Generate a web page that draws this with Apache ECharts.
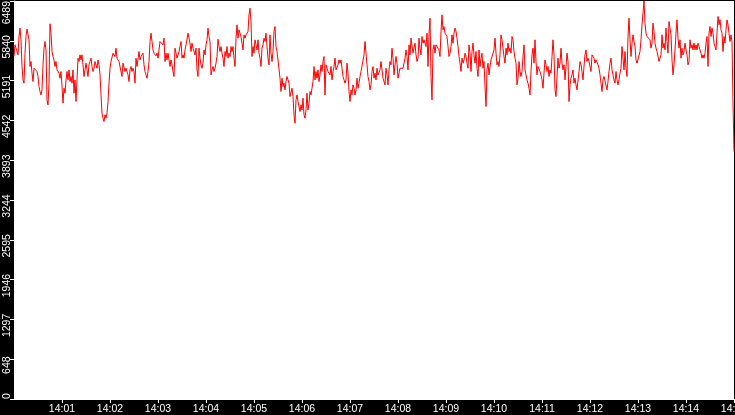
<!DOCTYPE html>
<html>
<head>
<meta charset="utf-8">
<script src="https://cdn.jsdelivr.net/npm/echarts@6/dist/echarts.min.js"></script>
<style>
html,body{margin:0;padding:0;background:#000;}
#chart{width:735px;height:415px;}
</style>
</head>
<body>
<div id="chart"></div>
<script>
// Sampled values, one sample every 1.25 s starting 14:00:00
const startHour = 14;
const sampleSeconds = 1.25;
const yMax = 6489;
const yStep = 648.9;
const xTickSeconds = 60;

const seg1 = [
5584,5774,5720,5747,5611,5910,6046,5856,5421,5203,
5149,5638,5910,6030,6019,5856,5421,5502,5312,5176,
5393,5366,5393,5339,5258,5094,5013,4958,5040,5448,
5720,5828,5692,4877,4795,5149,6117,5964,5665,5584,
5529,5421,5502,5366,5339,5312,5230,5339,5094,4823,
5067,4986,5203,5339,5203,5366,5176,5258,5149,5366,
4986,5203,4850,5203,5557,5502,5611,5529,5611,5448,
5258,5366,5475,5366,5258,5448,5502,5557,5421,5339,
5393,5502,5448,5393,5529,5448,5285,4958,4659,4578,
4524,4632,4578,4659,4850,5149,5393,5502,5502,5638,
5611,5584,5720,5557,5529,5502,5475,5502,5258,5475,
5475,5339,5393,5366,5285,5176,5366,5421,5339,5393,
5339,5149,5557,5421
];
const seg2 = [
5421,5665,5529,5584,5611,5638,5448,5339,5285,5230,
5339,5502,5828,5964,5828,5692,5638,5611,5595,5638,
5557,5692,5828,5801,5856,5774,5883,5502,5638,5529,
5638,5665,5421,5529,5448,5339,5258,5720,5747,5557,
5529,5665,5747,5828,5557,5611,5557,5692,5774,5801,
5964,5992,5801,5665,5801,5720,5692,5611,5720,5366,
5258,5720,5557,5448,5393,5475,5692,5611,5774,5856,
6046,5910,5828,5285,5366,5421,5339,5393,5475,5584,
5866,5747,5665,5747,5638,5557,5421,5665,5584,5747,
5557,5638,5584,5747,5665,5747,5557,5421,5883,6100,
5883,6019,5964,5910,5801,5692,5937,5883,5937,5910,
5992,6263,6372,6155,5584,5747,5638,5856,5774,5692,
5856,5638,5557,5421,5720
];
const seg3 = [
5774,5883,5828,5964,5747,5557,5448,5937,5638,5502,
5665,5992,6073,5747,5665,5529,5502,5230,5013,5230,
5094,5149,5040,5176,5258,5285,5149,4931,4904,5067,
4931,4632,4496,4877,4958,4850,4877,4687,4795,4714,
4904,4632,4578,4714,4986,4714,4823,5013,4958,5067,
5176,5421,5203,5339,5230,5366,5176,5285,5448,5339,
5502,5584,4958,5448,5393,5339,5366,5285,5421,5203,
5339,5421,5557,5366,5393,5448,5529,5475,5529,5393,
5258,5285,5149,5203,5475,5312,5013,4850,5040,4958,
5122,5067,4958,5040,5230,5067,5149,5258,5339,5366,
5339,5611,5828,5638,5448,5258,5176,5040,5122,5339,
5421,5230,5312,5203,5393,5285,5258,5366,5502,5366,
5230,5258,5122,5393,5285
];
const seg4 = [
5122,5366,5502,5448,5720,5557,5285,5448,5584,5475,
5230,5203,5393,5366,5366,5393,5421,5557,5692,5584,
5366,5774,5611,5883,5856,5638,5720,5801,5611,5502,
5557,5883,5720,5611,5910,5801,5856,5801,5747,5964,
5421,5937,6209,5258,4877,5692,5774,5638,5774,5747,
5801,5692,5584,5992,6263,6019,6073,5964,5937,5910,
5747,5584,5638,5747,5937,5801,5964,6046,5992,5883,
5747,5584,5475,5339,5557,5475,5529,5638,5584,5475,
5393,5774,5638,5339,5665,5801,5611,5475,5665,5393,
5258,5692,5421,5557,5638,5393,5502,5094,4768,5366,
5475,5285,5421,5529,5502,5557,5692,5883,5638,5448,
5502,5421,5611,5937,5856,5720,5584,5475,5720,5611,
5801,5665,5720,5638,5910
];
const seg5 = [
5856,5665,5557,5475,5122,5230,5502,5339,5258,5339,
5584,5774,5366,5285,5203,5149,5067,4958,5339,5611,
5720,5475,5856,5502,5285,5421,5448,5339,5285,5203,
5067,5312,5529,5448,5339,5421,5258,5366,5312,5584,
5856,5611,5040,4931,5258,5557,5393,5475,5720,5475,
5366,5448,5203,5421,5638,5502,4850,5122,5230,5285,
5366,5149,5230,5122,5040,5013,5339,5502,5448,5339,
5203,5421,5611,5692,5502,5557,5502,5529,5339,5611,
5638,5557,5475,5529,5502,5448,5393,5285,5149,5013,
5203,5258,5285,5230,5040,5176,5339,5475,5557,5366,
5393,5203,5149,5339,5203,5122,5203,5312,5393,5747,
5557,5366,5665,5393,5258,5910,6209,5856,5584,5801,
5937,5828,5747,5529,5475
];
const seg6 = [
5448,5502,5665,5856,6100,6291,6489,6127,5964,5910,
5883,5910,5856,5720,5801,6127,5992,5801,5720,5665,
5638,5502,5475,5611,5937,5720,5801,5692,6046,5828,
5638,6155,6182,5937,5529,5285,5448,5692,5964,6182,
5883,5720,5856,5557,5720,5611,5665,5801,5692,5611,
5448,5502,5856,5720,5774,5692,5801,5692,5774,5692,
5801,5747,5692,5638,5557,5611,5557,5638,5801,5910,
5421,5964,6073,5910,6046,5964,5801,5747,5692,5720,
6236,6100,6182,6019,5964,5665,5910,5801,6019,6182,
6100,5964,5828,5937,5828,4823,4034
];

const values = [].concat(seg1, seg2, seg3, seg4, seg5, seg6);
const seriesData = values.map((v, i) => [i * sampleSeconds, v]);
const xMax = (values.length - 1) * sampleSeconds;

function clockLabel(sec) {
  const totalMin = Math.round(sec / 60);
  const h = startHour + Math.floor(totalMin / 60);
  const m = totalMin % 60;
  return h + ':' + (m < 10 ? '0' + m : m);
}

function yLabel(v) {
  const s = String(Math.floor(v + 0.01));
  if (v <= 0.01 || v >= yMax - 0.01) return s;
  return '{m|' + s + '}';
}

const FONT = 'Liberation Sans';
const chart = echarts.init(document.getElementById('chart'), null, {renderer: 'canvas'});
chart.setOption({
  backgroundColor: '#000000',
  animation: false,
  grid: {
    left: 14, right: 1, top: 1, bottom: 16,
    containLabel: false, outerBoundsMode: 'none',
    show: true, backgroundColor: '#ffffff', borderWidth: 0
  },
  xAxis: {
    type: 'value',
    min: 0, max: xMax, interval: xTickSeconds,
    splitLine: {show: false},
    axisLine: {show: true, lineStyle: {color: '#ffffff', width: 1}},
    axisTick: {show: true, length: 4, lineStyle: {color: '#ffffff', width: 1}},
    axisLabel: {
      color: '#ffffff', fontSize: 10.5, fontFamily: FONT,
      margin: 5, showMinLabel: false, showMaxLabel: true, hideOverlap: false,
      formatter: clockLabel
    }
  },
  yAxis: {
    type: 'value',
    min: 0, max: yMax, interval: yStep,
    splitLine: {show: false},
    axisLine: {show: true, lineStyle: {color: '#ffffff', width: 1}},
    axisTick: {show: true, length: 4, lineStyle: {color: '#ffffff', width: 1}},
    axisLabel: {
      color: '#ffffff', fontSize: 10.5, fontFamily: FONT,
      rotate: 90, margin: 1.5,
      align: 'center', verticalAlign: 'bottom',
      alignMinLabel: 'left', alignMaxLabel: 'right',
      showMinLabel: true, showMaxLabel: true,
      formatter: yLabel,
      rich: {
        m: {color: '#ffffff', fontSize: 10.5, fontFamily: FONT, padding: [0, 12, 0, 0]}
      }
    }
  },
  series: [{
    type: 'line',
    data: seriesData,
    showSymbol: false,
    symbol: 'none',
    sampling: null,
    clip: true,
    lineStyle: {color: '#ff0000', width: 1},
    itemStyle: {color: '#ff0000'}
  }]
});
</script>
</body>
</html>
